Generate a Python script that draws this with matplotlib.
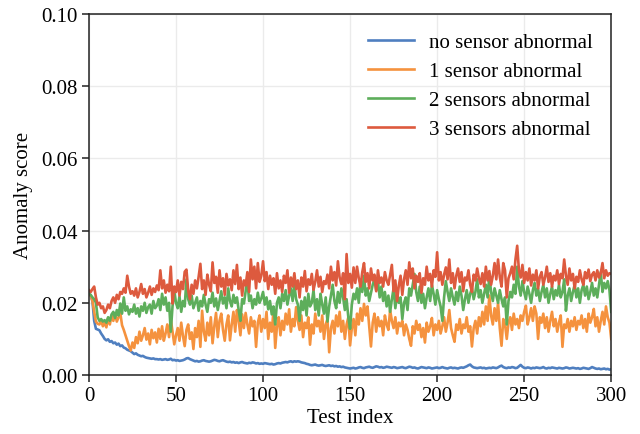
import numpy as np
import matplotlib
matplotlib.use("Agg")
import matplotlib.pyplot as plt

# Scores, in units of 1e-4, test index 0..300
no_sensor = [
    225, 220, 205, 150, 128, 126, 124, 115, 108, 100, 96, 99, 92, 94, 88, 90, 84, 87, 80, 82,
    76, 74, 70, 68, 66, 62, 58, 60, 56, 54, 52, 53, 50, 48, 47, 46, 45, 46, 44, 44,
    43, 44, 42, 43, 44, 42, 43, 45, 41, 42, 40, 41, 39, 40, 41, 43, 46, 47, 44, 42,
    40, 38, 39, 37, 38, 40, 41, 39, 38, 37, 38, 40, 42, 41, 39, 38, 40, 41, 39, 37,
    36, 37, 35, 36, 34, 35, 33, 35, 36, 34, 33, 32, 34, 33, 35, 34, 32, 33, 31, 32,
    31, 33, 32, 31, 30, 31, 29, 30, 32, 33, 32, 34, 35, 36, 35, 37, 38, 36, 38, 37,
    38, 37, 35, 34, 33, 31, 30, 28, 27, 28, 29, 27, 26, 27, 28, 26, 25, 26, 27, 25,
    26, 24, 25, 23, 24, 22, 23, 21, 20, 19, 18, 19, 20, 18, 19, 21, 22, 20, 19, 21,
    22, 23, 21, 20, 22, 24, 23, 21, 22, 20, 21, 23, 22, 21, 20, 22, 21, 19, 20, 21,
    22, 20, 19, 21, 23, 22, 20, 21, 19, 18, 20, 22, 21, 20, 19, 21, 20, 18, 19, 20,
    21, 19, 20, 22, 20, 19, 18, 20, 21, 19, 20, 19, 18, 20, 21, 20, 22, 24, 27, 29,
    24, 21, 20, 19, 20, 21, 19, 20, 18, 19, 20, 19, 21, 20, 19, 21, 24, 26, 22, 20,
    19, 21, 20, 22, 21, 19, 20, 24, 28, 23, 20, 19, 21, 20, 18, 20, 19, 21, 20, 19,
    20, 22, 19, 18, 20, 19, 21, 20, 19, 18, 20, 19, 18, 19, 21, 20, 18, 19, 20, 19,
    18, 19, 17, 18, 20, 19, 18, 17, 19, 22, 20, 18, 17, 18, 16, 17, 18, 16, 17, 15,
    16,
]

one_sensor = [
    225, 220, 205, 175, 148, 142, 140, 150, 135, 145, 132, 158, 140, 165, 150, 170, 148, 160, 172, 138,
    125, 110, 95, 80, 68, 90, 75, 105, 88, 120, 95, 110, 130, 98, 115, 85, 125, 102, 118, 90,
    128, 100, 135, 95, 115, 140, 105, 155, 120, 85, 110, 130, 95, 145, 108, 80, 125, 140, 100, 118,
    72, 130, 105, 150, 78, 178, 120, 95, 145, 110, 160, 88, 135, 172, 105, 150, 170, 125, 95, 140,
    165, 96, 140, 175, 120, 180, 150, 110, 168, 130, 172, 140, 115, 160, 135, 150, 78, 145, 165, 120,
    155, 130, 175, 100, 145, 120, 178, 75, 135, 160, 110, 150, 125, 170, 140, 182, 120, 155, 135, 188,
    150, 125, 165, 105, 145, 130, 160, 84, 140, 115, 170, 135, 150, 120, 165, 100, 140, 155, 63, 130,
    150, 115, 165, 135, 175, 120, 150, 100, 140, 160, 82, 130, 155, 110, 170, 140, 185, 150, 197, 165,
    190, 135, 79, 145, 170, 120, 160, 135, 150, 110, 165, 140, 125, 180, 150, 130, 160, 115, 145, 135,
    150, 110, 140, 125, 100, 81, 135, 115, 150, 125, 140, 105, 130, 90, 145, 120, 135, 158, 110, 140,
    125, 150, 115, 135, 160, 120, 145, 180, 130, 110, 92, 140, 125, 155, 115, 140, 130, 160, 120, 135,
    79, 130, 150, 115, 160, 135, 175, 140, 190, 150, 220, 165, 140, 185, 150, 200, 130, 81, 155, 140,
    100, 145, 160, 125, 170, 140, 155, 130, 165, 150, 175, 192, 140, 160, 185, 150, 190, 170, 100, 160,
    145, 170, 130, 160, 120, 150, 175, 135, 155, 120, 145, 165, 78, 140, 130, 155, 120, 150, 135, 160,
    125, 150, 140, 165, 130, 155, 120, 170, 145, 160, 183, 135, 160, 120, 150, 175, 140, 190, 160, 145,
    100,
]

two_sensors = [
    225, 222, 215, 210, 200, 160, 150, 155, 148, 152, 145, 160, 150, 168, 175, 158, 180, 165, 198, 170,
    215, 178, 190, 168, 182, 175, 195, 170, 185, 162, 190, 178, 200, 172, 188, 195, 170, 205, 185, 192,
    210, 180, 225, 195, 215, 178, 200, 120, 190, 232, 200, 185, 218, 175, 205, 190, 265, 210, 195, 220,
    185, 200, 215, 178, 205, 190, 222, 195, 175, 210, 200, 228, 190, 212, 180, 205, 232, 198, 215, 185,
    240, 205, 190, 222, 200, 215, 180, 150, 210, 198, 232, 265, 205, 220, 185, 210, 195, 228, 200, 212,
    230, 195, 215, 182, 205, 168, 190, 140, 200, 215, 185, 225, 205, 235, 195, 220, 240, 205, 250, 210,
    195, 150, 205, 180, 215, 165, 225, 190, 200, 235, 180, 210, 165, 225, 195, 170, 215, 148, 190, 220,
    250, 205, 185, 230, 200, 240, 215, 180, 210, 160, 128, 195, 225, 210, 240, 200, 262, 230, 275, 220,
    240, 205, 228, 250, 265, 235, 260, 215, 245, 205, 230, 190, 220, 175, 210, 240, 185, 225, 200, 215,
    155, 200, 215, 180, 240, 220, 250, 280, 230, 205, 245, 200, 225, 185, 215, 240, 205, 250, 225, 195,
    235, 210, 190, 150, 215, 260, 230, 205, 240, 215, 195, 230, 205, 245, 220, 180, 210, 235, 200, 225,
    240, 210, 230, 265, 215, 235, 200, 225, 250, 215, 275, 230, 205, 240, 220, 200, 235, 210, 190, 215,
    140, 205, 230, 215, 250, 225, 300, 245, 220, 260, 230, 210, 245, 225, 200, 235, 255, 220, 240, 205,
    230, 250, 215, 240, 200, 225, 245, 210, 235, 220, 250, 215, 230, 265, 178, 220, 240, 205, 230, 250,
    215, 240, 200, 235, 250, 220, 245, 210, 230, 255, 220, 240, 215, 250, 285, 230, 255, 240, 260, 235,
    175,
]

three_sensors = [
    235, 230, 238, 245, 215, 195, 200, 185, 190, 172, 180, 195, 185, 205, 215, 200, 222, 210, 230, 225,
    240, 228, 275, 245, 225, 232, 220, 240, 215, 230, 252, 225, 238, 215, 228, 245, 222, 240, 230, 248,
    235, 290, 240, 262, 228, 250, 232, 300, 198, 245, 230, 262, 220, 258, 238, 286, 292, 235, 210, 250,
    225, 262, 240, 272, 308, 238, 262, 222, 278, 250, 232, 312, 255, 272, 228, 290, 245, 268, 222, 280,
    248, 265, 235, 290, 252, 305, 238, 270, 220, 262, 248, 285, 230, 320, 265, 300, 240, 310, 258, 275,
    315, 260, 285, 238, 275, 250, 268, 225, 282, 240, 262, 230, 275, 255, 290, 228, 270, 245, 282, 238,
    262, 215, 270, 245, 288, 232, 265, 250, 280, 236, 258, 290, 245, 272, 230, 260, 252, 278, 240, 300,
    262, 285, 248, 315, 270, 252, 282, 210, 335, 255, 280, 242, 298, 255, 300, 268, 245, 285, 310, 258,
    282, 240, 295, 262, 278, 232, 290, 255, 270, 245, 285, 262, 250, 278, 305, 232, 262, 205, 248, 275,
    222, 265, 290, 250, 312, 268, 295, 240, 275, 258, 282, 228, 268, 250, 300, 262, 280, 245, 290, 272,
    340, 262, 285, 250, 278, 298, 265, 320, 255, 282, 240, 275, 295, 258, 285, 232, 270, 262, 290, 250,
    230, 278, 262, 295, 268, 252, 282, 245, 300, 262, 288, 250, 275, 310, 265, 320, 272, 245, 310, 290,
    215, 268, 282, 300, 265, 320, 358, 290, 270, 305, 255, 285, 262, 295, 248, 278, 262, 290, 240, 272,
    285, 250, 270, 300, 258, 282, 245, 275, 262, 290, 252, 280, 268, 320, 275, 250, 295, 262, 280, 240,
    272, 258, 290, 265, 250, 285, 268, 292, 260, 278, 285, 262, 290, 270, 282, 310, 268, 290, 275, 282,
    280,
]

labels = ["no sensor abnormal", "1 sensor abnormal", "2 sensors abnormal", "3 sensors abnormal"]
colors = ["#4f7fc0", "#f5923e", "#5dae5b", "#dd5a3e"]

plt.rcParams['font.family'] = ['Liberation Serif', 'DejaVu Serif']
plt.rcParams['font.size'] = 15

fig = plt.figure(figsize=(6.4, 4.35), dpi=100)
ax = fig.add_axes([0.139, 0.1356, 0.816, 0.83])

series = [no_sensor, one_sensor, two_sensors, three_sensors]
for vals, lab, col in zip(series, labels, colors):
    y = np.array(vals) / 10000.0
    ax.plot(np.arange(len(y)), y, color=col, lw=1.9, label=lab)

ax.set_xlim(0, 300)
ax.set_ylim(0, 0.10)
ax.set_xticks([0, 50, 100, 150, 200, 250, 300])
ax.set_yticks([0.0, 0.02, 0.04, 0.06, 0.08, 0.10])
ax.set_yticklabels(["0.00", "0.02", "0.04", "0.06", "0.08", "0.10"])
ax.grid(True, color='#ebebeb', lw=1.0)
ax.set_axisbelow(True)
for s in ax.spines.values():
    s.set_color('#222222')
    s.set_linewidth(1.1)
ax.tick_params(axis='both', direction='out', length=5, width=1.1, color='#222222',
               labelsize=15, pad=3)

ax.set_xlabel("Test index", fontsize=15, labelpad=2)
ax.set_ylabel("Anomaly score", fontsize=15, labelpad=6)

ax.legend(loc='upper right', frameon=False, fontsize=15, handlelength=2.2,
          labelspacing=0.45, handletextpad=0.7, borderaxespad=0.5)

plt.savefig('out.png', dpi=100)
